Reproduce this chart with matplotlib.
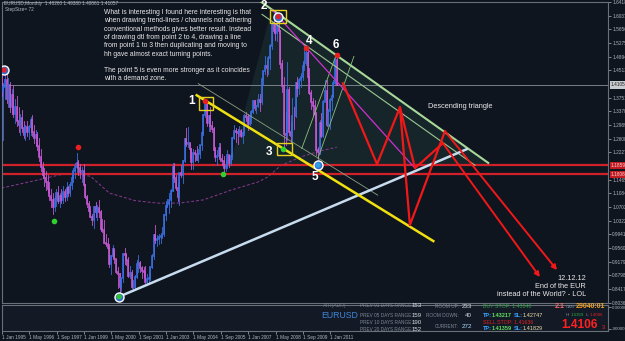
import matplotlib
matplotlib.use("Agg")
import matplotlib.pyplot as plt
from matplotlib.patches import Rectangle, Polygon

W, H = 625, 341
BG = "#0f151f"
PANEL = "#131a25"
GRID = "#6a707a"
plt.rcParams['font.family'] = ['Liberation Sans', 'DejaVu Sans']

# ---- monthly EURUSD bars, Jan 1995 .. May 2011 ----
highs = [
    1.458, 1.415, 1.450, 1.440, 1.430, 1.420, 1.400, 1.410, 1.370, 1.380, 1.350, 1.330,
    1.340, 1.310, 1.300, 1.310, 1.300, 1.322, 1.326, 1.300, 1.285, 1.280, 1.262, 1.232,
    1.195, 1.180, 1.170, 1.160, 1.140, 1.120, 1.110, 1.100, 1.120, 1.130, 1.110, 1.120,
    1.130, 1.120, 1.140, 1.130, 1.140, 1.160, 1.180, 1.192, 1.222, 1.200, 1.190, 1.182,
    1.190, 1.135, 1.104, 1.087, 1.074, 1.050, 1.074, 1.083, 1.075, 1.090, 1.061, 1.036,
    1.034, 0.994, 0.983, 0.966, 0.937, 0.964, 0.950, 0.924, 0.902, 0.887, 0.868, 0.943,
    0.956, 0.943, 0.932, 0.906, 0.895, 0.866, 0.881, 0.923, 0.935, 0.920, 0.906, 0.904,
    0.905, 0.883, 0.886, 0.903, 0.938, 0.994, 1.019, 0.991, 0.994, 0.990, 1.014, 1.050,
    1.086, 1.093, 1.108, 1.121, 1.193, 1.193, 1.160, 1.137, 1.166, 1.186, 1.200, 1.263,
    1.290, 1.293, 1.250, 1.236, 1.231, 1.229, 1.239, 1.231, 1.243, 1.281, 1.330, 1.367,
    1.360, 1.326, 1.349, 1.310, 1.293, 1.237, 1.229, 1.248, 1.249, 1.218, 1.211, 1.202,
    1.229, 1.216, 1.220, 1.264, 1.298, 1.290, 1.289, 1.296, 1.288, 1.282, 1.329, 1.336,
    1.330, 1.326, 1.342, 1.368, 1.368, 1.355, 1.385, 1.384, 1.428, 1.450, 1.490, 1.477,
    1.491, 1.524, 1.590, 1.602, 1.582, 1.584, 1.604, 1.565, 1.481, 1.434, 1.334, 1.474,
    1.404, 1.307, 1.374, 1.348, 1.417, 1.434, 1.429, 1.445, 1.477, 1.508, 1.514, 1.512,
    1.458, 1.396, 1.374, 1.369, 1.335, 1.238, 1.313, 1.333, 1.369, 1.425, 1.424, 1.343,
    1.375, 1.386, 1.425, 1.488, 1.494,
]
lows = [
    1.380, 1.257, 1.370, 1.360, 1.350, 1.335, 1.330, 1.320, 1.305, 1.295, 1.280, 1.270,
    1.280, 1.262, 1.258, 1.268, 1.260, 1.270, 1.268, 1.248, 1.240, 1.228, 1.198, 1.170,
    1.150, 1.130, 1.118, 1.108, 1.090, 1.070, 1.052, 1.060, 1.072, 1.080, 1.070, 1.080,
    1.080, 1.088, 1.090, 1.100, 1.100, 1.120, 1.140, 1.150, 1.168, 1.160, 1.150, 1.140,
    1.130, 1.095, 1.069, 1.055, 1.041, 1.021, 1.012, 1.043, 1.033, 1.041, 1.004, 1.000,
    0.970, 0.960, 0.954, 0.904, 0.884, 0.930, 0.915, 0.886, 0.845, 0.823, 0.836, 0.861,
    0.912, 0.909, 0.874, 0.873, 0.845, 0.837, 0.838, 0.873, 0.890, 0.890, 0.871, 0.875,
    0.858, 0.856, 0.860, 0.866, 0.899, 0.924, 0.969, 0.960, 0.966, 0.969, 0.984, 0.989,
    1.035, 1.069, 1.054, 1.070, 1.115, 1.140, 1.117, 1.086, 1.076, 1.154, 1.138, 1.195,
    1.239, 1.237, 1.208, 1.176, 1.176, 1.199, 1.200, 1.196, 1.206, 1.228, 1.270, 1.320,
    1.296, 1.283, 1.283, 1.280, 1.230, 1.198, 1.187, 1.207, 1.199, 1.187, 1.164, 1.171,
    1.179, 1.183, 1.187, 1.205, 1.260, 1.252, 1.247, 1.269, 1.264, 1.249, 1.272, 1.310,
    1.285, 1.300, 1.305, 1.332, 1.341, 1.331, 1.349, 1.338, 1.358, 1.409, 1.442, 1.435,
    1.440, 1.455, 1.512, 1.555, 1.537, 1.532, 1.555, 1.459, 1.390, 1.233, 1.243, 1.258,
    1.270, 1.250, 1.251, 1.289, 1.320, 1.380, 1.385, 1.406, 1.424, 1.452, 1.467, 1.425,
    1.385, 1.343, 1.327, 1.314, 1.214, 1.188, 1.219, 1.266, 1.264, 1.369, 1.297, 1.297,
    1.287, 1.342, 1.378, 1.414, 1.409,
]
closes = [
    1.395, 1.405, 1.425, 1.372, 1.410, 1.350, 1.382, 1.330, 1.350, 1.310, 1.300, 1.318,
    1.290, 1.272, 1.292, 1.280, 1.292, 1.312, 1.280, 1.262, 1.272, 1.240, 1.210, 1.182,
    1.160, 1.150, 1.140, 1.120, 1.100, 1.090, 1.070, 1.092, 1.110, 1.088, 1.100, 1.090,
    1.112, 1.098, 1.122, 1.110, 1.132, 1.150, 1.170, 1.182, 1.192, 1.178, 1.168, 1.170,
    1.131, 1.098, 1.078, 1.058, 1.043, 1.035, 1.069, 1.056, 1.068, 1.055, 1.009, 1.007,
    0.971, 0.966, 0.956, 0.912, 0.934, 0.952, 0.925, 0.888, 0.883, 0.848, 0.871, 0.939,
    0.936, 0.921, 0.878, 0.886, 0.847, 0.848, 0.876, 0.911, 0.913, 0.900, 0.893, 0.890,
    0.862, 0.868, 0.872, 0.902, 0.933, 0.991, 0.978, 0.981, 0.987, 0.988, 0.994, 1.049,
    1.074, 1.079, 1.091, 1.116, 1.181, 1.150, 1.124, 1.098, 1.165, 1.159, 1.198, 1.260,
    1.247, 1.248, 1.232, 1.197, 1.220, 1.217, 1.202, 1.217, 1.242, 1.276, 1.327, 1.356,
    1.304, 1.325, 1.296, 1.287, 1.230, 1.210, 1.213, 1.234, 1.203, 1.199, 1.179, 1.184,
    1.216, 1.192, 1.211, 1.262, 1.282, 1.279, 1.276, 1.281, 1.268, 1.276, 1.324, 1.320,
    1.302, 1.323, 1.335, 1.365, 1.345, 1.353, 1.368, 1.364, 1.426, 1.449, 1.463, 1.459,
    1.486, 1.519, 1.579, 1.560, 1.555, 1.575, 1.560, 1.469, 1.408, 1.273, 1.270, 1.397,
    1.280, 1.267, 1.325, 1.324, 1.415, 1.403, 1.425, 1.433, 1.464, 1.472, 1.500, 1.432,
    1.387, 1.363, 1.351, 1.330, 1.229, 1.223, 1.305, 1.268, 1.363, 1.393, 1.298, 1.338,
    1.369, 1.380, 1.416, 1.481, 1.411,
]
first_open = 1.420

# long moving average (dashed purple)
ma_month = [0, 18, 38, 52, 63, 78, 91, 104, 118, 134, 150, 156, 163, 175, 186, 196]
ma_price = [1.123, 1.142, 1.164, 1.156, 1.109, 1.088, 1.081, 1.081, 1.090, 1.117,
            1.140, 1.155, 1.185, 1.210, 1.226, 1.237]

# fractal / pivot markers
ring_month = [1.5, 161.9, 68.7, 185.0]
ring_price = [1.452, 1.601, 0.820, 1.187]
ring_centre = ["#e0202a", "#e0202a", "#30c030", "#30a0e0"]
red_dot_month = [44.5, 118.9, 177.7, 196.1]
red_dot_price = [1.238, 1.366, 1.514, 1.493]
green_dot_month = [30.7, 129.6, 164.5]
green_dot_price = [1.032, 1.161, 1.231]

# horizontal levels
current_price = 1.41057
demand_top, demand_bottom = 1.1859, 1.1608

# drawn objects (month, price) end points
yellow_line = ([114.1, 252.4], [1.3817, 0.9751])
channel_line = ([115.0, 219.9], [1.4142, 1.1032])
support_line = ([68.7, 271.9], [0.8200, 1.2313])
tri_top = ([150.0, 284.5], [1.6480, 1.1931])
tri_mid = ([152.3, 276.7], [1.6072, 1.1867])
magenta_line = ([158.1, 241.7], [1.6203, 1.1784])
rise_a = ([175.5, 195.9], [1.2332, 1.4978])
rise_b = ([185.0, 206.0], [1.2062, 1.4903])
tri_fill_month = [133.5, 158.1, 285.5]
tri_fill_price = [1.1867, 1.6239, 1.1867]
boxes = [  # (month0, month1, price0, price1)
    (115.4, 123.8, 1.3418, 1.3769),
    (157.1, 166.3, 1.5830, 1.6184),
    (161.0, 170.0, 1.2146, 1.2488),
]
zig_month = [199.6, 219.5, 232.9, 238.7, 259.2]
zig_price = [1.4151, 1.1895, 1.3482, 1.0196, 1.2814]
zig2_month = [232.9, 241.7, 258.0]
zig2_price = [1.3482, 1.1784, 1.2480]
arrow_from_month = [259.2, 258.0]
arrow_from_price = [1.2814, 1.2480]
arrow_to_month = [324.7, 314.7]
arrow_to_price = [0.8943, 0.8748]

point_names = ["1", "2", "3", "4", "5", "6"]
point_month = [110.8, 153.6, 156.5, 179.7, 183.4, 195.3]
point_price = [1.3658, 1.6295, 1.2238, 1.5340, 1.1525, 1.5228]

ytick_vals = [1.6418, 1.6037, 1.5656, 1.5275, 1.4894, 1.4513, 1.3751, 1.3370, 1.2989,
              1.2608, 1.2227, 1.1465, 1.1084, 1.0703, 1.0322, 0.9941, 0.9560, 0.9179,
              0.8798, 0.8417, 0.8036]
xtick_month = [0, 16, 32, 48, 64, 80, 96, 112, 128, 144, 160, 176, 192]
xtick_text = ["1 Jan 1995", "1 May 1996", "1 Sep 1997", "1 Jan 1999", "1 May 2000",
              "1 Sep 2001", "1 Jan 2003", "1 May 2004", "1 Sep 2005", "1 Jan 2007",
              "1 May 2008", "1 Sep 2009", "1 Jan 2011"]

note = ("What is interesting I found here interesting is that\n"
        "when drawing trend-lines / channels not adhering\n"
        "conventional methods gives better result. Instead\n"
        "of drawing dtl from point 2 to 4, drawing a line\n"
        "from point 1 to 3 then duplicating and moving to\n"
        "hh gave almost exact turning points.\n"
        "\n"
        "The point 5 is even more stronger as it coincides\n"
        "with a demand zone.")


def fx(px):
    return px / W


def fy(py):
    return 1 - py / H


fig = plt.figure(figsize=(W / 100, H / 100), dpi=100, facecolor=BG)

# ---- main price panel ----
ax = fig.add_axes([fx(2), fy(303), fx(606), 301 / H])
ax.set_facecolor(BG)
ax.set_xlim(0.29, 354.5)
ax.set_ylim(1.6462 - 0.0027847 * 303, 1.6462 - 0.0027847 * 2)
for s in ax.spines.values():
    s.set_color(GRID)
    s.set_linewidth(0.8)

ax.add_patch(Polygon(list(zip(tri_fill_month, tri_fill_price)), closed=True,
                     facecolor="#16252a", edgecolor="none", zorder=1))

ax.plot(ma_month, ma_price, color="#8a3a90", lw=0.7, ls=(0, (3, 2)), zorder=2)

prev = first_open
for i, (h, l, c) in enumerate(zip(highs, lows, closes)):
    col = "#3a6ee0" if c >= prev else "#c458d4"
    ax.plot([i, i], [l, h], color=col, lw=0.6, zorder=3)
    ax.plot([i, i], [prev, c], color=col, lw=1.2, zorder=3)
    prev = c

ax.axhline(current_price, color="#8a8f98", lw=0.6, zorder=2)
ax.axhline(demand_top, color="#d0202a", lw=1.6, zorder=2)
ax.axhline(demand_bottom, color="#d0202a", lw=1.6, zorder=2)

ax.plot(*channel_line, color="#8aa080", lw=0.6, zorder=4)
ax.plot(*tri_mid, color="#9cc890", lw=0.8, zorder=4)
ax.plot(*tri_top, color="#a8d898", lw=1.5, zorder=4)
ax.plot(*rise_a, color="#8cc080", lw=0.6, zorder=4)
ax.plot(*rise_b, color="#8cc080", lw=0.6, zorder=4)
ax.plot(*magenta_line, color="#d030d0", lw=0.9, zorder=4)
ax.plot(*support_line, color="#c8dcf0", lw=1.8, zorder=4)
ax.plot(*yellow_line, color="#f0e010", lw=1.8, zorder=5)

for m0, m1, p0, p1 in boxes:
    ax.add_patch(Rectangle((m0, p0), m1 - m0, p1 - p0, fill=False,
                           edgecolor="#e8d020", lw=1.0, zorder=6))

ax.plot(zig_month, zig_price, color="#f01818", lw=1.6, zorder=6)
ax.plot(zig2_month, zig2_price, color="#f01818", lw=1.6, zorder=6)
for m0, p0, m1, p1 in zip(arrow_from_month, arrow_from_price, arrow_to_month, arrow_to_price):
    ax.annotate("", xy=(m1, p1), xytext=(m0, p0),
                arrowprops=dict(arrowstyle="-|>", color="#f01818", lw=1.4,
                                mutation_scale=7, shrinkA=0, shrinkB=0), zorder=6)

ax.scatter(ring_month, ring_price, s=42, c="#3070d0", edgecolors="white",
           linewidths=1.0, zorder=7)
ax.scatter(ring_month, ring_price, s=8, c=ring_centre, zorder=8)
ax.scatter(red_dot_month, red_dot_price, s=9, c="#e82020", zorder=7)
ax.scatter(green_dot_month, green_dot_price, s=9, c="#30d030", zorder=7)

for name, m, p in zip(point_names, point_month, point_price):
    ax.text(m, p, name, color="white", fontsize=8.5, fontweight="bold",
            ha="center", va="center", zorder=9)

ax.yaxis.tick_right()
ax.set_yticks(ytick_vals)
ax.set_yticklabels([f"{v:.5f}" for v in ytick_vals])
ax.tick_params(axis="y", colors="#b0b4bc", labelsize=3.4, length=2, pad=1, width=0.5)
ax.set_xticks([])

ax.text(1.005, current_price, f"{current_price:.5f}", transform=ax.get_yaxis_transform(),
        fontsize=3.4, color="#202020", va="center", ha="left",
        bbox=dict(boxstyle="square,pad=0.25", fc="#c8ccd0", ec="none"))
for v in (demand_top, demand_bottom):
    ax.text(1.005, v, f"{v:.5f}", transform=ax.get_yaxis_transform(),
            fontsize=3.4, color="#ffd0d0", va="center", ha="left",
            bbox=dict(boxstyle="square,pad=0.25", fc="#c01c24", ec="none"))

# ---- lower indicator panel ----
ax2 = fig.add_axes([fx(2), fy(331), fx(606), 26 / H])
ax2.set_facecolor(PANEL)
ax2.set_xlim(0.29, 354.5)
ax2.set_ylim(0, 1)
for s in ax2.spines.values():
    s.set_color(GRID)
    s.set_linewidth(0.8)
ax2.yaxis.tick_right()
ax2.set_yticks([0.92, 0.08])
ax2.set_yticklabels(["0.000000", "-900000"])
ax2.tick_params(axis="y", colors="#b0b4bc", labelsize=3.2, length=2, pad=1, width=0.5)
ax2.set_xticks(xtick_month)
ax2.set_xticklabels(xtick_text, ha="left")
ax2.tick_params(axis="x", colors="#b0b4bc", labelsize=3.4, length=2, pad=1, width=0.5)

# ---- free text ----
fig.text(fx(4), fy(4), "EURUSD,Monthly  1.48260 1.49380 1.40861 1.41057",
         fontsize=3.4, color="#b8bcc2", va="center")
fig.text(fx(5), fy(10), "StepSize= 72", fontsize=3.4, color="#b8bcc2", va="center")
fig.text(fx(104), fy(9), note, fontsize=4.9, color="#e8e8e8", va="top",
         linespacing=1.26)
fig.text(fx(427.5), fy(106.5), "Descending triangle", fontsize=5.3, color="#e8e8e8",
         va="center")
fig.text(fx(586), fy(274.5), "12.12.12\nEnd of the EUR\ninstead of the World? - LOL",
         fontsize=5.3, color="#e8e8e8", va="top", ha="right", multialignment="right",
         linespacing=1.2)

# dashboard
fig.text(fx(334.5), fy(306), "ATR(ADR)", fontsize=3.6, color="#6f7a8a", va="center",
         ha="center")
fig.text(fx(340), fy(315.5), "EURUSD", fontsize=6.3, color="#3f86d8", va="center",
         ha="center")
rows_y = [305.7, 315.7, 322.3, 329.3]
range_names = ["PREV 01 DAYS RANGE:", "PREV 05 DAYS RANGE:", "PREV 10 DAYS RANGE:",
               "PREV 20 DAYS RANGE:"]
range_vals = ["153", "159", "190", "152"]
for y, n, v in zip(rows_y, range_names, range_vals):
    fig.text(fx(360), fy(y), n, fontsize=3.4, color="#7d8796", va="center")
    fig.text(fx(412), fy(y), v, fontsize=4.4, color="#d8dce2", va="center")
fig.text(fx(459), fy(306), "ROOM UP:", fontsize=3.4, color="#7d8796", va="center", ha="right")
fig.text(fx(461.5), fy(306), "233", fontsize=4.4, color="#d8dce2", va="center")
fig.text(fx(459), fy(315.7), "ROOM DOWN:", fontsize=3.4, color="#7d8796", va="center", ha="right")
fig.text(fx(465), fy(315.7), "40", fontsize=4.4, color="#d8dce2", va="center")
fig.text(fx(459), fy(326), "CURRENT:", fontsize=3.4, color="#7d8796", va="center", ha="right")
fig.text(fx(461.5), fy(326), "272", fontsize=4.6, color="#a8d8ff", va="center")

fig.text(fx(483), fy(306), "BUY STOP: 1.43040", fontsize=3.8, color="#30a040", va="center")
fig.text(fx(483), fy(315.5), "TP:", fontsize=4.0, color="#3aa0ff", va="center",
         fontweight="bold")
fig.text(fx(492), fy(315.5), "1.43217", fontsize=4.0, color="#60e060", va="center",
         fontweight="bold")
fig.text(fx(514), fy(315.5), "SL:", fontsize=4.0, color="#3aa0ff", va="center",
         fontweight="bold")
fig.text(fx(523), fy(315.5), "1.42747", fontsize=4.0, color="#f0e0b0", va="center")
fig.text(fx(483), fy(322.5), "SELL STOP: 1.41636", fontsize=3.8, color="#e02020", va="center")
fig.text(fx(483), fy(329), "TP:", fontsize=4.0, color="#3aa0ff", va="center",
         fontweight="bold")
fig.text(fx(492), fy(329), "1.41359", fontsize=4.0, color="#60e060", va="center",
         fontweight="bold")
fig.text(fx(514), fy(329), "SL:", fontsize=4.0, color="#3aa0ff", va="center",
         fontweight="bold")
fig.text(fx(523), fy(329), "1.41829", fontsize=4.0, color="#f0e0b0", va="center")

fig.text(fx(555), fy(306.5), "2.1", fontsize=5.0, color="#ff6a6a", va="center",
         fontweight="bold")
fig.text(fx(566), fy(306.5), "CAN", fontsize=3.0, color="#7d8796", va="center")
fig.text(fx(575.5), fy(306.5), "29040:01", fontsize=5.0, color="#f0a020", va="center",
         fontweight="bold")
fig.text(fx(566), fy(315.5), "H:", fontsize=3.2, color="#7d8796", va="center")
fig.text(fx(570.5), fy(315.5), "1.5359", fontsize=3.2, color="#30b040", va="center")
fig.text(fx(586), fy(315.5), "L:", fontsize=3.2, color="#7d8796", va="center")
fig.text(fx(590), fy(315.5), "1.4086", fontsize=3.2, color="#e02020", va="center")
fig.text(fx(561.5), fy(325.5), "1.4106", fontsize=8.6, color="#ff2020", va="center",
         fontweight="bold")
fig.text(fx(602), fy(327.5), "3", fontsize=4.0, color="#ff2020", va="center")

fig.savefig("out.png", dpi=100, facecolor=BG)
